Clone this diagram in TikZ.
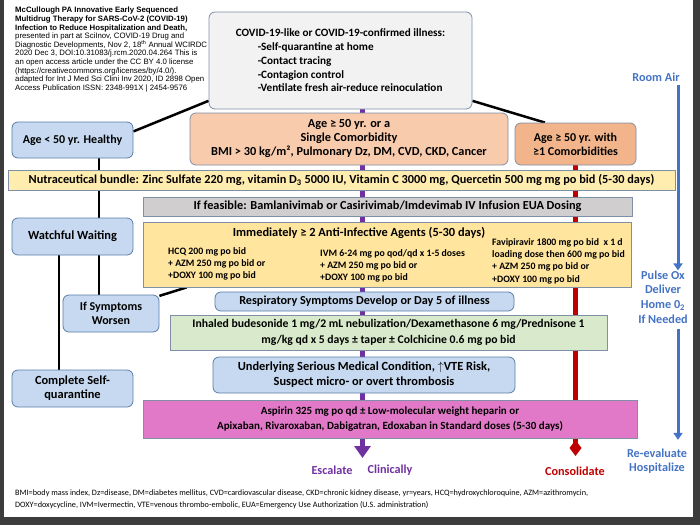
\documentclass[tikz,border=0pt]{standalone}
\usepackage{fontspec}
\setmainfont{Carlito}
\newfontfamily\arialfont{Liberation Sans}
\usetikzlibrary{arrows.meta,backgrounds}

\definecolor{boxgray}{HTML}{F2F2F2}
\definecolor{edgegray}{HTML}{7F8FA6}
\definecolor{boxblue}{HTML}{C6D9F0}
\definecolor{edgeblue}{HTML}{5A7DA6}
\definecolor{peachlight}{HTML}{F8CBAD}
\definecolor{peach}{HTML}{F2B48A}
\definecolor{nutrayellow}{HTML}{FFEDB0}
\definecolor{antiyellow}{HTML}{FFE59E}
\definecolor{mabgray}{HTML}{D0CECE}
\definecolor{greenbox}{HTML}{D8EACB}
\definecolor{pinkbox}{HTML}{E279C8}
\definecolor{escpurple}{HTML}{7030A0}
\definecolor{consred}{HTML}{C00000}
\definecolor{airblue}{HTML}{4472C4}
\definecolor{framegray}{HTML}{3C3C3C}

\begin{document}
\begin{tikzpicture}[x=1pt,y=-1pt,
    caixa/.style={draw=edgegray, line width=0.8pt, rounded corners=6pt, inner sep=0pt,
      align=center, font=\bfseries\fontsize{12}{14}\selectfont},
    caixaazul/.style={caixa, fill=boxblue, draw=edgeblue},
    faixa/.style={caixa, rounded corners=0pt},
    textinho/.style={anchor=west, align=left, inner sep=0pt, font=\bfseries\fontsize{9.8}{12.3}\selectfont},
    ligacao/.style={line width=2.5pt, black},
    setaroxa/.style={line width=4.5pt, escpurple, -{Triangle[width=16pt,length=12pt]}},
    setavermelha/.style={line width=5pt, consred, -{Diamond[width=12pt,length=16pt]}},
    setaazul/.style={line width=3pt, airblue, -{Triangle[width=9pt,length=7pt]}},
    rotulo/.style={inner sep=0pt, align=center, font=\bfseries\fontsize{12.2}{14.7}\selectfont}]
  \useasboundingbox (0,0) rectangle (700,525);
  % Moldura da captura
  \fill[framegray] (0,0) rectangle (4,525);
  \fill[framegray] (693,0) rectangle (700,525);
  \fill[framegray] (0,517) rectangle (700,525);

  % Referencia
  \node[anchor=north west, align=left, inner sep=0pt, font=\arialfont\fontsize{7.8}{8.6}\selectfont] (citacao) at (15,7)
    {\textbf{McCullough PA Innovative Early Sequenced}\\
     \textbf{Multidrug Therapy for SARS-CoV-2 (COVID-19)}\\
     \textbf{Infection to Reduce Hospitalization and Death,}\\
     presented in part at SciInov, COVID-19 Drug and\\
     Diagnostic Developments, Nov 2, 18\textsuperscript{th} Annual WCIRDC\\
     2020 Dec 3, DOI:10.31083/j.rcm.2020.04.264 This is\\
     an open access article under the CC BY 4.0 license\\
     (https://creativecommons.org/licenses/by/4.0/).\\
     adapted for Int J Med Sci Clini Inv 2020, ID 2898 Open\\
     Access Publication ISSN: 2348-991X | 2454-9576};

  % Caixa inicial
  \node[caixa, fill=boxgray, align=left, font=\bfseries\fontsize{11.2}{13.7}\selectfont,
        minimum width=263pt, minimum height=97pt] (inicio) at (340.5,60.5)
    {COVID-19-like or COVID-19-confirmed illness:\\
     \hspace*{22pt}-Self-quarantine at home\\
     \hspace*{22pt}-Contact tracing\\
     \hspace*{22pt}-Contagion control\\
     \hspace*{22pt}-Ventilate fresh air-reduce reinoculation};

  % Grupos de risco
  \node[caixaazul, minimum width=121pt, minimum height=36pt] (jovem) at (72.5,140) {Age < 50 yr. Healthy};
  \node[caixa, fill=peachlight, font=\bfseries\fontsize{12.3}{14}\selectfont, minimum width=318pt, minimum height=52pt] (umacomorb) at (349,139)
    {Age ≥ 50 yr. or a\\Single Comorbidity\\BMI > 30 kg/m², Pulmonary Dz, DM, CVD, CKD, Cancer};
  \node[caixa, fill=peach, minimum width=121pt, minimum height=42pt] (comorbs) at (575.5,144)
    {Age ≥ 50 yr. with\\≥1 Comorbidities};

  % Faixas de tratamento
  \node[faixa, fill=nutrayellow, font=\bfseries\fontsize{12.3}{14}\selectfont, minimum width=667pt, minimum height=20pt] (nutra) at (341.5,180)
    {Nutraceutical bundle: Zinc Sulfate 220 mg, vitamin D\textsubscript{3} 5000 IU, Vitamin C 3000 mg, Quercetin 500 mg mg po bid (5-30 days)};
  \node[faixa, fill=mabgray, font=\bfseries\fontsize{12.3}{14}\selectfont, minimum width=489pt, minimum height=19pt] (anticorpo) at (387.5,206.5)
    {If feasible: Bamlanivimab or Casirivimab/Imdevimab IV Infusion EUA Dosing};
  \node[faixa, fill=antiyellow, minimum width=488pt, minimum height=65pt] (antiinf) at (387,254.5) {};
  \node[inner sep=0pt, font=\bfseries\fontsize{12.4}{14}\selectfont] (antititulo) at (359,233)
    {Immediately ≥ 2 Anti-Infective Agents (5-30 days)};
  \node[textinho] (hcq) at (168,264) {HCQ 200 mg po bid\\+ AZM 250 mg po bid or\\+DOXY 100 mg po bid};
  \node[textinho] (ivm) at (320,266) {IVM 6-24 mg po qod/qd x 1-5 doses\\+ AZM 250 mg po bid or\\+DOXY 100 mg po bid};
  \node[textinho] (favi) at (492,261) {Favipiravir 1800 mg po bid\ \ x 1 d\\loading dose then 600 mg po bid\\+ AZM 250 mg po bid or\\+DOXY 100 mg po bid};

  % Coluna da esquerda
  \node[caixaazul, font=\bfseries\fontsize{12.4}{14}\selectfont, minimum width=121pt, minimum height=37pt] (espera) at (72.5,236.5) {Watchful Waiting};
  \node[caixaazul, font=\bfseries\fontsize{12}{13.5}\selectfont, minimum width=96pt, minimum height=37pt] (piora) at (111,313.5) {If Symptoms\\Worsen};
  \node[caixaazul, font=\bfseries\fontsize{12.4}{14}\selectfont, minimum width=121pt, minimum height=37pt] (completa) at (72.5,388.5) {Complete Self-\\quarantine};

  % Fase respiratoria
  \node[caixaazul, font=\bfseries\fontsize{12.2}{13}\selectfont, minimum width=299pt, minimum height=19pt] (respira) at (364.5,301.5)
    {Respiratory Symptoms Develop or Day 5 of illness};
  \node[faixa, fill=greenbox, font=\bfseries\fontsize{11.7}{16}\selectfont, minimum width=437pt, minimum height=35pt] (corticoide) at (388.5,332.5)
    {Inhaled budesonide 1 mg/2 mL nebulization/Dexamethasone 6 mg/Prednisone 1\\
     mg/kg qd x 5 days ± taper ± Colchicine 0.6 mg po bid};
  \node[caixaazul, font=\bfseries\fontsize{12.4}{15}\selectfont, minimum width=302pt, minimum height=36pt] (trombo) at (364,375)
    {Underlying Serious Medical Condition, $\uparrow$VTE Risk,\\Suspect micro- or overt thrombosis};
  \node[faixa, fill=pinkbox, font=\bfseries\fontsize{11}{15}\selectfont, minimum width=494pt, minimum height=38pt] (anticoag) at (390,419)
    {Aspirin 325 mg po qd ± Low-molecular weight heparin or\\
     Apixaban, Rivaroxaban, Dabigatran, Edoxaban in Standard doses (5-30 days)};

  % Rotulos finais
  \node[rotulo, text=escpurple] (escala) at (332,470) {Escalate};
  \node[rotulo, text=escpurple] (clinica) at (390,470) {Clinically};
  \node[rotulo, text=consred] (consolida) at (575,471) {Consolidate};
  \node[rotulo, text=airblue] (arambiente) at (656,77) {Room Air};
  \node[rotulo, text=airblue] (oximetro) at (663,297)
    {Pulse Ox\\Deliver\\Home 0\textsubscript{2}\\If Needed};
  \node[rotulo, text=airblue, font=\bfseries\fontsize{12.2}{13.5}\selectfont] (reavalia) at (657,461) {Re-evaluate\\Hospitalize};

  % Legenda
  \node[anchor=west, align=left, inner sep=0pt, font=\fontsize{8.2}{11.5}\selectfont] (legenda) at (15,499.5)
    {BMI=body mass index, Dz=disease, DM=diabetes mellitus, CVD=cardiovascular disease, CKD=chronic kidney disease, yr=years, HCQ=hydroxychloroquine, AZM=azithromycin,\\
     DOXY=doxycycline, IVM=Ivermectin, VTE=venous thrombo-embolic, EUA=Emergency Use Authorization (U.S. administration)};

  \coordinate (fimroxo) at (362.5,458);
  \coordinate (fimvermelho) at (575.5,456);

  % Ligacoes atras das caixas
  \begin{pgfonlayer}{background}
    \draw[ligacao] (jovem.8) -- (inicio.197);
    \draw[ligacao] (inicio.-17) -- (comorbs.145);
    \draw[ligacao] ([xshift=26.5pt]jovem.south) -- ([xshift=26.5pt]espera.north);
    \draw[ligacao] ([xshift=-13.5pt]espera.south) -- ([xshift=-13.5pt]completa.north);
    \draw[ligacao] ([xshift=26.5pt]espera.south) -- ([xshift=-12pt]piora.north);
    \draw[ligacao] (piora.20) -- ([xshift=44pt]antiinf.south west);
    \draw[setaroxa] ([xshift=22pt]inicio.south) -- (fimroxo);
    \draw[setavermelha] (comorbs.south) -- (fimvermelho);
    \draw[setaazul, shorten <=3pt] ([xshift=22pt]arambiente.south) -- ([xshift=15pt]oximetro.north);
    \draw[setaazul, shorten <=5pt, shorten >=9pt] ([xshift=15pt]oximetro.south) -- ([xshift=21pt]reavalia.north);
  \end{pgfonlayer}
\end{tikzpicture}
\end{document}
